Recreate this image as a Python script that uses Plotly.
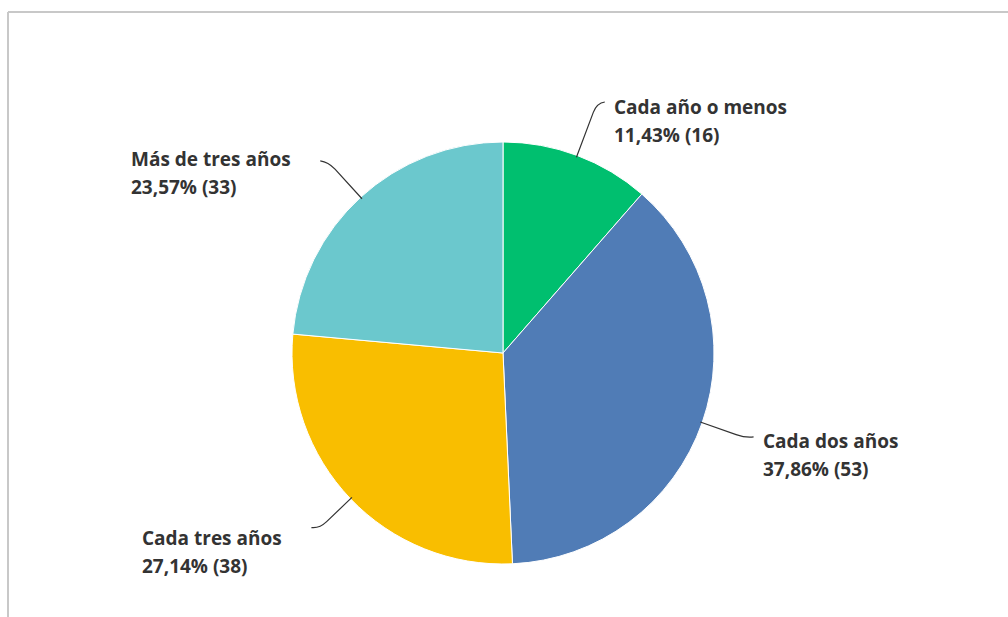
import math
import plotly.graph_objects as go

# Survey answers: how often the respondent changes it
labels = ["Cada año o menos", "Cada dos años", "Cada tres años", "Más de tres años"]
counts = [16, 53, 38, 33]
percents = [11.43, 37.86, 27.14, 23.57]
colors = ["#00BF6F", "#507CB6", "#F9BE00", "#6BC8CD"]

# connector styling per slice: radial length beyond the rim, label drop
leads = [56, 46, 43, 48]
drops = [4, 4, 10, -2]

W, H = 1008, 617
CX, CY, R = 503, 353, 211          # pie centre / radius in pixels
HOOK = 8

def px(x):
    return x / W

def py(y):
    return 1 - y / H

fig = go.Figure(
    go.Pie(
        labels=labels,
        values=counts,
        marker=dict(colors=colors, line=dict(color="white", width=1)),
        sort=False,
        direction="clockwise",
        rotation=0,
        textinfo="none",
        hoverinfo="label+percent+value",
        showlegend=False,
        domain=dict(x=[px(CX - R), px(CX + R)], y=[py(CY + R), py(CY - R)]),
    )
)

shapes = []
annotations = []
total = sum(counts)
cum = 0
for lab, cnt, pct, lead, drop in zip(labels, counts, percents, leads, drops):
    mid = (cum + cnt / 2) / total * 2 * math.pi
    cum += cnt
    ux, uy = math.sin(mid), -math.cos(mid)
    side = 1 if ux >= 0 else -1
    x0, y0 = CX + (R - 2) * ux, CY + (R - 2) * uy
    xa, ya = CX + (R + lead - 10) * ux, CY + (R + lead - 10) * uy
    x1, y1 = CX + (R + lead) * ux, CY + (R + lead) * uy
    x2, y2 = x1 + side * HOOK, y1 - 1
    path = (
        f"M {px(x0)},{py(y0)} L {px(xa)},{py(ya)} "
        f"Q {px(x1)},{py(y1)} {px(x2)},{py(y2)}"
    )
    shapes.append(dict(type="path", path=path, xref="paper", yref="paper",
                       line=dict(color="#333333", width=1.2)))
    value_txt = f"{pct:.2f}".replace(".", ",") + f"% ({cnt})"
    text = (f'<span style="font-size:19px">{lab}</span><br>'
            f'<span style="font-size:19px">{value_txt}</span>')
    gap = 7 if side > 0 else 27
    annotations.append(dict(
        x=px(x2 + side * gap), y=py(y2 + drop + 14.6),
        xref="paper", yref="paper",
        xanchor="left" if side > 0 else "right", yanchor="middle",
        align="left", showarrow=False, text=text,
        font=dict(family="Open Sans, Arial, sans-serif", size=21.5,
                  color="#333333", weight=700),
    ))

# light grey frame along the top and left edges
frame = dict(color="#C8C8C8", width=2)
shapes.append(dict(type="line", xref="paper", yref="paper",
                   x0=px(8), y0=py(12), x1=1, y1=py(12), line=frame))
shapes.append(dict(type="line", xref="paper", yref="paper",
                   x0=px(8), y0=py(12), x1=px(8), y1=0, line=frame))

fig.update_layout(
    width=W, height=H,
    margin=dict(l=0, r=0, t=0, b=0),
    paper_bgcolor="white", plot_bgcolor="white",
    shapes=shapes, annotations=annotations,
)

fig.write_html("out.html")
